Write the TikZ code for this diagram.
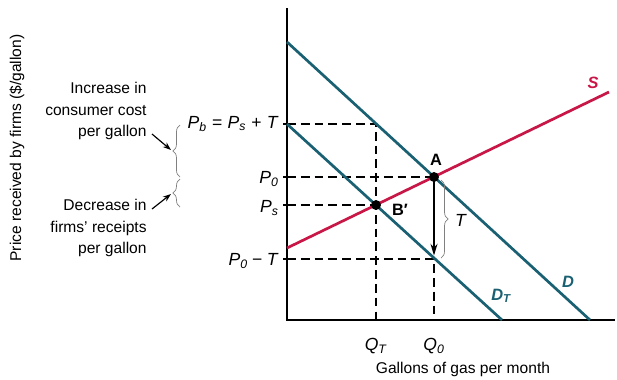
\documentclass[tikz,border=0pt]{standalone}
\usepackage{fontspec}
\setmainfont{Liberation Sans}
\usepackage{tikz}
\usetikzlibrary{arrows.meta,decorations.pathreplacing}

\definecolor{demand}{RGB}{25,96,114}
\definecolor{supply}{RGB}{200,22,70}
\newcommand{\symb}[2]{\textit{#1}\textsubscript{\textit{#2}}}

\tikzset{
 axis/.style={line width=1.4pt},
 curve/.style={line width=2.3pt},
 guide/.style={line width=1.2pt,dash pattern=on 7.5pt off 4.3pt},
 dot/.style={circle,fill=black,inner sep=0pt,minimum size=8.5pt},
 lab/.style={font=\fontsize{13.3}{18}\selectfont,inner sep=1pt},
 sym/.style={font=\fontsize{15}{18}\selectfont,inner sep=1pt},
 brc/.style={decorate,decoration={brace,amplitude=6pt},gray,line width=0.6pt},
 pointer/.style={line width=1pt,-{Stealth[length=7pt,width=5pt]}}
}

\begin{document}
\begin{tikzpicture}[x=0.03cm,y=-0.03cm]
 \useasboundingbox (0,0) rectangle (617,379);
 % axes
 \coordinate (O) at (287,320);
 \coordinate (ytop) at (287,8);
 \coordinate (xend) at (615,320);
 \draw[axis] (ytop) -- (O) -- (xend);
 % price levels on the axis
 \coordinate (pb) at (287,124);
 \coordinate (p0) at (287,177);
 \coordinate (ps) at (287,205);
 \coordinate (pt) at (287,259);
 \coordinate (qt) at (376,320);
 \coordinate (q0) at (434,320);
 \coordinate (a) at (434,177);
 \coordinate (b) at (376,205);
 \coordinate (e) at (376,124);
 \coordinate (c) at (434,259);
 \foreach \p in {pb,p0,ps,pt}
  \draw[axis] (\p) -- ++(-4,0);
 % dashed guides
 \draw[guide] (pb) -- (e) -- (qt);
 \draw[guide] (p0) -- (a);
 \draw[guide] (ps) -- (b);
 \draw[guide] (pt) -- (c) -- (q0);
 % demand and supply
 \coordinate (d1) at (287,42);
 \coordinate (d2) at (590,320);
 \coordinate (dt1) at (287,124);
 \coordinate (dt2) at (502,320);
 \coordinate (s1) at (287,248);
 \coordinate (s2) at (609,92);
 \draw[curve,demand] (d1) -- (d2);
 \draw[curve,demand] (dt1) -- (dt2);
 \draw[curve,supply] (s1) -- (s2);
 % tax arrow
 \draw[line width=1.2pt,-{Stealth[length=10pt,width=6pt]},shorten >=3pt] (a) -- (c);
 \node[dot] (A) at (a) {};
 \node[dot] (B) at (b) {};
 \node[lab,font=\fontsize{14}{18}\selectfont\bfseries] (Alab) at (436,160) {A};
 \node[lab,font=\fontsize{14}{18}\selectfont\bfseries] (Blab) at (400,210) {B′};
 % curve labels
 \node[lab,supply,font=\fontsize{14}{18}\selectfont\bfseries\itshape] (Slab) at (593,83) {S};
 \node[lab,demand,font=\fontsize{14}{18}\selectfont\bfseries\itshape] (Dlab) at (568,282) {D};
 \node[lab,demand,font=\fontsize{14}{18}\selectfont\bfseries\itshape] (DTlab) at (501,296) {D\textsubscript{T}};
 % T brace
 \draw[brc] (441,180) -- (441,258);
 \node[sym] (Tlab) at (461,220) {\textit{T}};
 % price labels
 \node[sym,anchor=east] (pblab) at (280,124) {\symb{P}{b}\hspace{0.3em}=\hspace{0.3em}\symb{P}{s}\hspace{0.3em}+\hspace{0.3em}\textit{T}};
 \node[sym,anchor=east] (p0lab) at (280,179) {\symb{P}{0}};
 \node[sym,anchor=east] (pslab) at (280,208) {\symb{P}{s}};
 \node[sym,anchor=east] (ptlab) at (280,261) {\symb{P}{0}\hspace{0.25em}−\hspace{0.25em}\textit{T}};
 % quantity labels
 \node[sym] (qtlab) at (376,346) {\symb{Q}{T}};
 \node[sym] (q0lab) at (434,346) {\symb{Q}{0}};
 \node[lab] (xlab) at (463,369) {Gallons of gas per month};
 \node[lab,rotate=90] (ylab) at (17,148) {Price received by firms (\$/gallon)};
 % braces on the left
 \draw[brc] (180,177) -- (180,125);
 \draw[brc] (180,207) -- (180,179);
 \node[lab,align=right,anchor=east] (incr) at (148,111) {Increase in\\consumer cost\\per gallon};
 \node[lab,align=right,anchor=east] (decr) at (148,228) {Decrease in\\firms’ receipts\\per gallon};
 \coordinate (i1) at (152,134);
 \coordinate (i2) at (171,150);
 \coordinate (r1) at (152,209);
 \coordinate (r2) at (171,194);
 \draw[pointer] (i1) -- (i2);
 \draw[pointer] (r1) -- (r2);
\end{tikzpicture}
\end{document}
